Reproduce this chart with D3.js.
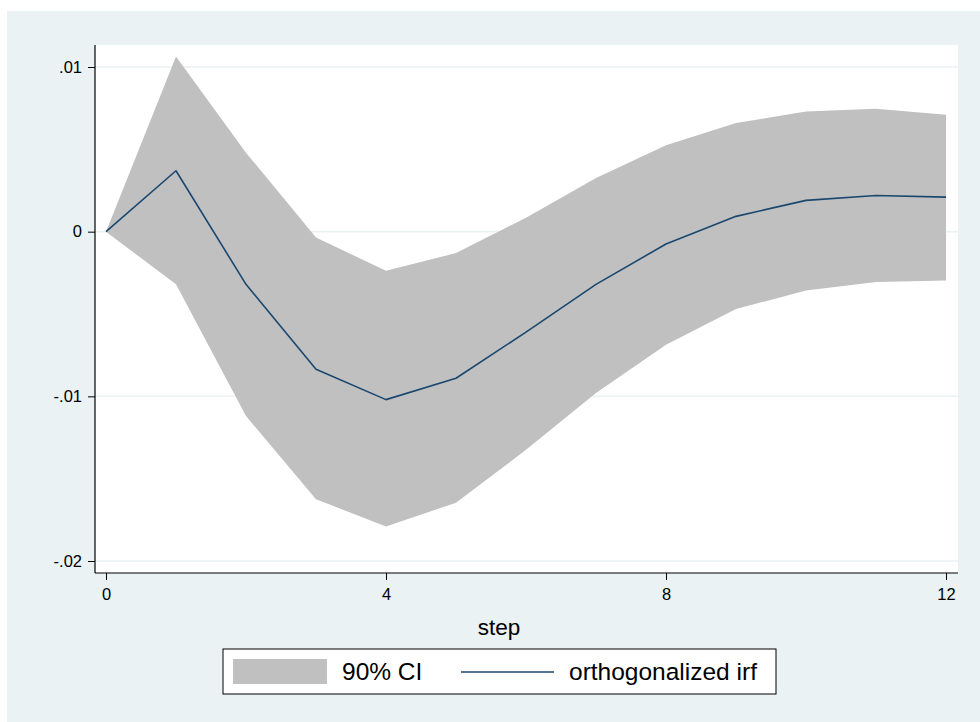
<!DOCTYPE html>
<html>
<head>
<meta charset="utf-8">
<script src="https://cdn.jsdelivr.net/npm/d3@7"></script>
<style>
  html, body { margin: 0; padding: 0; background: #fff; }
  svg { display: block; font-family: "Liberation Sans", Arial, sans-serif; }
</style>
</head>
<body>
<svg id="chart" width="980" height="722"></svg>
<script>
const steps = [0, 1, 2, 3, 4, 5, 6, 7, 8, 9, 10, 11, 12];
const irf = [0, 0.0037, -0.0032, -0.00835, -0.0102, -0.0089, -0.0061, -0.0032, -0.00075, 0.00093, 0.0019, 0.0022, 0.0021];
const ciUpper = [0, 0.01064, 0.0048, -0.00036, -0.00237, -0.0013, 0.00085, 0.00326, 0.00525, 0.0066, 0.0073, 0.00746, 0.0071];
const ciLower = [0, -0.0032, -0.0112, -0.01625, -0.0179, -0.01646, -0.01325, -0.0098, -0.00687, -0.0047, -0.00357, -0.00306, -0.00296];
const xTicks = [0, 4, 8, 12];
const yTicks = [0.01, 0, -0.01, -0.02];
const yTickLabels = ['.01', '0', '-.01', '-.02'];
const legendLabels = ['90% CI', 'orthogonalized irf'];

const svg = d3.select('#chart');
const plot = { left: 95, right: 958, top: 45, bottom: 573 };

// stata-ish colours
const bgColor = '#eaf2f3';
const ciColor = '#c0c0c0';
const lineColor = '#1a476f';

svg.append('rect').attr('x', 7).attr('y', 11).attr('width', 973).attr('height', 711).attr('fill', bgColor);
svg.append('rect')
  .attr('x', plot.left).attr('y', plot.top)
  .attr('width', plot.right - plot.left).attr('height', plot.bottom - plot.top)
  .attr('fill', '#fff');

const x = d3.scaleLinear().domain([0, 12]).range([106, 946]);
const y = d3.scaleLinear().domain([-0.02, 0.01]).range([561, 67]);

// gridlines
svg.append('g').selectAll('line').data(yTicks).join('line')
  .attr('x1', plot.left).attr('x2', plot.right)
  .attr('y1', d => y(d)).attr('y2', d => y(d))
  .attr('stroke', bgColor).attr('stroke-width', 1.5);

const rows = steps.map((s, i) => ({ s, lo: ciLower[i], hi: ciUpper[i], v: irf[i] }));

svg.append('path').datum(rows)
  .attr('fill', ciColor)
  .attr('d', d3.area().x(d => x(d.s)).y0(d => y(d.lo)).y1(d => y(d.hi)));

svg.append('path').datum(rows)
  .attr('fill', 'none').attr('stroke', lineColor).attr('stroke-width', 1.6)
  .attr('stroke-linejoin', 'round')
  .attr('d', d3.line().x(d => x(d.s)).y(d => y(d.v)));

// y axis
const yAxis = d3.axisLeft(y).tickValues(yTicks).tickSize(7).tickPadding(6)
  .tickFormat((d, i) => yTickLabels[i]);
const gy = svg.append('g').attr('transform', `translate(${plot.left},0)`).call(yAxis);
gy.select('.domain').remove();
gy.append('line').attr('x1', 0).attr('x2', 0).attr('y1', plot.top).attr('y2', plot.bottom)
  .attr('stroke', '#000').attr('stroke-width', 1.2);
gy.selectAll('.tick line').attr('stroke', '#000');
gy.selectAll('.tick text').attr('fill', '#000').style('font-size', '16.5px');

// x axis
const xAxis = d3.axisBottom(x).tickValues(xTicks).tickSize(7).tickPadding(8);
const gx = svg.append('g').attr('transform', `translate(0,${plot.bottom})`).call(xAxis);
gx.select('.domain').remove();
gx.append('line').attr('x1', plot.left).attr('x2', plot.right).attr('y1', 0).attr('y2', 0)
  .attr('stroke', '#000').attr('stroke-width', 1.2);
gx.selectAll('.tick line').attr('stroke', '#000');
gx.selectAll('.tick text').attr('fill', '#000').style('font-size', '16.5px');

svg.append('text')
  .attr('x', 499).attr('y', 635).attr('text-anchor', 'middle')
  .style('font-size', '22.5px').attr('fill', '#000')
  .text('step');

// legend
const lg = svg.append('g');
lg.append('rect').attr('x', 223).attr('y', 649).attr('width', 553).attr('height', 45)
  .attr('fill', '#fff').attr('stroke', '#000').attr('stroke-width', 1);
lg.append('rect').attr('x', 233).attr('y', 659).attr('width', 94).attr('height', 25).attr('fill', ciColor);
lg.append('text').attr('x', 342).attr('y', 680).style('font-size', '24.5px').attr('fill', '#000').text(legendLabels[0]);
lg.append('line').attr('x1', 461).attr('x2', 554).attr('y1', 672).attr('y2', 672)
  .attr('stroke', lineColor).attr('stroke-width', 1.6);
lg.append('text').attr('x', 569).attr('y', 680).style('font-size', '24.5px').attr('fill', '#000').text(legendLabels[1]);
</script>
</body>
</html>
